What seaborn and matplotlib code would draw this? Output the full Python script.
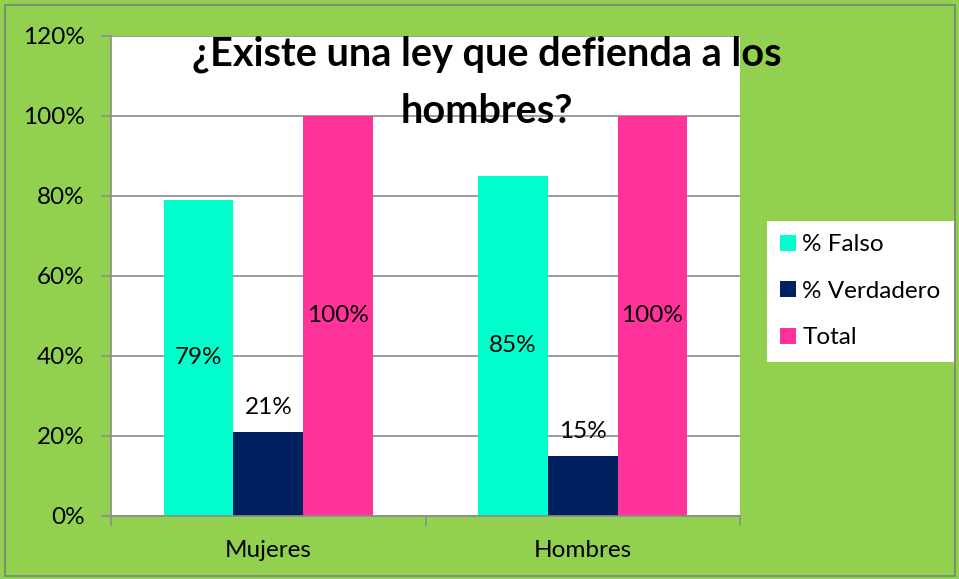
import matplotlib
matplotlib.use('Agg')
import matplotlib.pyplot as plt
import numpy as np
import pandas as pd
import seaborn as sns
from matplotlib.patches import Rectangle

#________________________________Data___________________________________
categorias      =   ['Mujeres', 'Hombres']
series          =   ['% Falso', '% Verdadero', 'Total']
falso           =   [0.79, 0.85]
verdadero       =   [0.21, 0.15]
total           =   [1.00, 1.00]
etiquetas_y     =   ['0%', '20%', '40%', '60%', '80%', '100%', '120%']
titulo          =   '¿Existe una ley que defienda a los\nhombres?'

colores         =   ['#00FFCC', '#002060', '#FF3399']
verde           =   '#92D050'

df = pd.DataFrame({
    'Grupo': categorias * 3,
    'Serie': [s for s in series for _ in categorias],
    'Valor': falso + verdadero + total,
})

#________________________________Plot___________________________________
sns.set_theme(style='white')
plt.rcParams['font.family'] = ['Lato', 'DejaVu Sans']
plt.rcParams['text.color'] = 'black'
plt.rcParams['xtick.color'] = 'black'
plt.rcParams['ytick.color'] = 'black'
fs = 17.5

fig = plt.figure(figsize=(9.59, 5.79), dpi=100, facecolor=verde)
ax  = fig.add_axes([111/959, 1-516/579, (740-111)/959, (516-36)/579])
ax.set_facecolor('white')

sns.barplot(data=df, x='Grupo', y='Valor', hue='Serie', hue_order=series,
            palette=colores, width=0.665, saturation=1, ax=ax, legend=False,
            edgecolor='none', linewidth=0)

ax.set_ylim(0, 1.2)
ax.set_xlim(-0.5, 1.5)
yt = np.arange(0, 1.21, 0.2)
ax.set_yticks(yt)
ax.set_yticklabels(etiquetas_y, fontsize=fs)
ax.yaxis.grid(True, color='#8C8C8C', linewidth=1.2)
ax.set_axisbelow(True)
ax.set_xlabel('')
ax.set_ylabel('')

# x ticks at category boundaries, labels at centres
ax.set_xticks([-0.5, 0.5, 1.5])
ax.set_xticklabels([])
ax.set_xticks([0, 1], minor=True)
ax.set_xticklabels(categorias, minor=True, fontsize=fs)
ax.tick_params(axis='x', which='major', direction='out', length=7, width=1.2, color='#8C8C8C', bottom=True)
ax.tick_params(axis='x', which='minor', length=0, pad=17)
ax.tick_params(axis='y', direction='out', length=7, width=1.2, color='#8C8C8C', left=True, pad=12)

for s in ['top', 'right']:
    ax.spines[s].set_visible(False)
for s in ['left', 'bottom']:
    ax.spines[s].set_color('#8C8C8C')
    ax.spines[s].set_linewidth(1.2)

# data labels
fmt = lambda v: f'{v*100:.0f}%'
ax.bar_label(ax.containers[0], labels=[fmt(v) for v in falso], label_type='center', fontsize=fs)
ax.bar_label(ax.containers[1], labels=[fmt(v) for v in verdadero], label_type='edge', padding=10, fontsize=fs)
ax.bar_label(ax.containers[2], labels=[fmt(v) for v in total], label_type='center', fontsize=fs)

# title over plot
fig.text(487/959, 1-83/579, titulo, ha='center', va='center', fontsize=28.5,
         fontweight='bold', linespacing=1.68)

# legend
handles = [Rectangle((0, 0), 1, 1, facecolor=c, edgecolor='none') for c in colores]
leg = fig.legend(handles, series, loc='upper left', bbox_to_anchor=(767/959, 1-221/579),
                 frameon=True, fancybox=False, framealpha=1, fontsize=fs, handlelength=0.65,
                 handleheight=0.65, handletextpad=0.25, labelspacing=1.05, borderpad=0.55,
                 borderaxespad=0)
leg.get_frame().set_facecolor('white')
leg.get_frame().set_edgecolor('white')
leg.get_frame().set_linewidth(0)

# chart border
fig.patches.append(Rectangle((5/959, 3/579), 950/959, 571/579, transform=fig.transFigure,
                             fill=False, edgecolor='#7F7F7F', linewidth=1.2))

fig.savefig('out.png', dpi=100, facecolor=verde)
